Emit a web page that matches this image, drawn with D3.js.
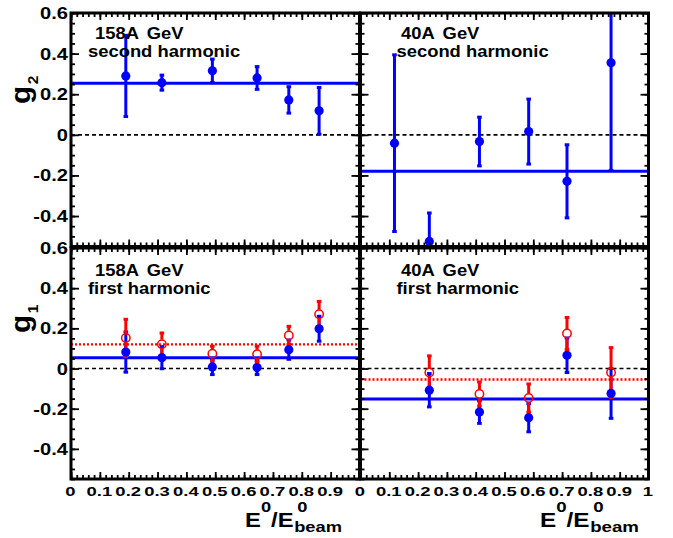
<!DOCTYPE html>
<html><head><meta charset="utf-8">
<script src="https://cdn.jsdelivr.net/npm/d3@7"></script>
<style>
body{margin:0;background:#fff}
svg{display:block}
text{font-family:"Liberation Sans",Arial,Helvetica,sans-serif;font-weight:bold;fill:#000}
</style>
</head><body>
<svg id="c" width="673" height="538"></svg>
<script>
// ---------------- data ----------------
const xTickValues = [0, 0.1, 0.2, 0.3, 0.4, 0.5, 0.6, 0.7, 0.8, 0.9, 1];
const xTickLabels = ["0", "0.1", "0.2", "0.3", "0.4", "0.5", "0.6", "0.7", "0.8", "0.9", "1"];
const yTickValues = [0.6, 0.4, 0.2, 0, -0.2, -0.4];
const yTickLabels = ["0.6", "0.4", "0.2", "0", "-0.2", "-0.4"];

// 158A GeV, second harmonic (g2)
const g2_158_x   = [0.19, 0.315, 0.49, 0.645, 0.755, 0.86];
const g2_158_y   = [0.29, 0.257, 0.315, 0.28, 0.172, 0.118];
const g2_158_err = [0.2, 0.037, 0.058, 0.056, 0.065, 0.115];
const g2_158_fit = 0.254;

// 40A GeV, second harmonic (g2)
const g2_40_x   = [0.118, 0.239, 0.413, 0.584, 0.717, 0.87];
const g2_40_y   = [-0.041, -0.525, -0.033, 0.016, -0.229, 0.355];
const g2_40_err = [0.435, 0.14, 0.12, 0.16, 0.18, 0.53];
const g2_40_fit = -0.18;

// 158A GeV, first harmonic (g1)
const g1_158_x        = [0.19, 0.315, 0.49, 0.645, 0.755, 0.86];
const g1_158_blue_y   = [0.082, 0.054, 0.008, 0.005, 0.094, 0.198];
const g1_158_blue_err = [0.1, 0.055, 0.038, 0.035, 0.048, 0.062];
const g1_158_red_y    = [0.152, 0.121, 0.074, 0.071, 0.165, 0.27];
const g1_158_red_err  = [0.093, 0.056, 0.037, 0.04, 0.045, 0.064];
const g1_158_blue_fit = 0.054;
const g1_158_red_fit  = 0.12;

// 40A GeV, first harmonic (g1)
const g1_40_x        = [0.239, 0.413, 0.584, 0.717, 0.87];
const g1_40_blue_y   = [-0.108, -0.217, -0.245, 0.066, -0.124];
const g1_40_blue_err = [0.083, 0.056, 0.07, 0.086, 0.124];
const g1_40_red_y    = [-0.02, -0.127, -0.147, 0.174, -0.02];
const g1_40_red_err  = [0.083, 0.06, 0.07, 0.08, 0.124];
const g1_40_blue_fit = -0.152;
const g1_40_red_fit  = -0.055;

// ---------------- drawing ----------------
const svg = d3.select("#c");
const BLUE = "#0000ff", RED = "#ff0000";
const zip = (xs, ys, es) => xs.map((x, i) => ({x, y: ys[i], e: es[i]}));

const xL = d3.scaleLinear().domain([0, 1]).range([71, 359.5]);
const xR = d3.scaleLinear().domain([0, 1]).range([360.5, 648.5]);
const yT = d3.scaleLinear().domain([-0.55, 0.6]).range([246.5, 13]);
const yB = d3.scaleLinear().domain([-0.55, 0.6]).range([479, 248]);

const panels = [
  {id: "tl", x: xL, y: yT, yLabels: true, xLabels: false, l1: "158A GeV", l2: "second harmonic",
   t1: [95, 38.5], t2: [88, 56.5],
   fits: [{v: g2_158_fit, c: BLUE}],
   series: [{d: zip(g2_158_x, g2_158_y, g2_158_err), c: BLUE, open: false}]},
  {id: "tr", x: xR, y: yT, yLabels: false, xLabels: false, l1: "40A GeV", l2: "second harmonic",
   t1: [401, 38.5], t2: [396.5, 56.5],
   fits: [{v: g2_40_fit, c: BLUE}],
   series: [{d: zip(g2_40_x, g2_40_y, g2_40_err), c: BLUE, open: false}]},
  {id: "bl", x: xL, y: yB, yLabels: true, xLabels: true, skipLast: true, l1: "158A GeV", l2: "first harmonic",
   t1: [95, 275.5], t2: [88, 293.5],
   fits: [{v: g1_158_blue_fit, c: BLUE}, {v: g1_158_red_fit, c: RED, dotted: true}],
   series: [{d: zip(g1_158_x, g1_158_blue_y, g1_158_blue_err), c: BLUE, open: false},
            {d: zip(g1_158_x, g1_158_red_y, g1_158_red_err), c: RED, open: true}]},
  {id: "br", x: xR, y: yB, yLabels: false, xLabels: true, l1: "40A GeV", l2: "first harmonic",
   t1: [401, 275.5], t2: [396.5, 293.5],
   fits: [{v: g1_40_blue_fit, c: BLUE}, {v: g1_40_red_fit, c: RED, dotted: true}],
   series: [{d: zip(g1_40_x, g1_40_blue_y, g1_40_blue_err), c: BLUE, open: false},
            {d: zip(g1_40_x, g1_40_red_y, g1_40_red_err), c: RED, open: true}]}
];

const defs = svg.append("defs");
const R = 4.6;

panels.forEach(p => {
  const [x0, x1] = p.x.range();
  const [yb, yt] = p.y.range();
  defs.append("clipPath").attr("id", "clip-" + p.id)
    .append("rect").attr("x", x0).attr("y", yt).attr("width", x1 - x0).attr("height", yb - yt);
  const g = svg.append("g");
  const clipped = g.append("g").attr("clip-path", `url(#clip-${p.id})`);

  // zero line
  clipped.append("line").attr("x1", x0).attr("x2", x1).attr("y1", p.y(0)).attr("y2", p.y(0))
    .attr("stroke", "#000").attr("stroke-width", 1.6).attr("stroke-dasharray", "4,3");

  // fits
  p.fits.forEach(f => {
    clipped.append("line").attr("x1", x0).attr("x2", x1).attr("y1", p.y(f.v)).attr("y2", p.y(f.v))
      .attr("stroke", f.c).attr("stroke-width", f.dotted ? 2.4 : 3)
      .attr("stroke-dasharray", f.dotted ? "2,2" : null);
  });

  // data series: error bars
  p.series.forEach(s => {
    s.d.forEach(pt => {
      const cx = p.x(pt.x), cy = p.y(pt.y);
      const yHi = p.y(pt.y + pt.e), yLo = p.y(pt.y - pt.e);
      const gap = s.open ? R : 0;
      if (cy - gap > yHi) clipped.append("line").attr("x1", cx).attr("x2", cx).attr("y1", yHi).attr("y2", cy - gap)
        .attr("stroke", s.c).attr("stroke-width", 3);
      if (yLo > cy + gap) clipped.append("line").attr("x1", cx).attr("x2", cx).attr("y1", cy + gap).attr("y2", yLo)
        .attr("stroke", s.c).attr("stroke-width", 3);
      [yHi, yLo].forEach(yy => {
        clipped.append("rect").attr("x", cx - 2.3).attr("y", yy - 1.5).attr("width", 4.6).attr("height", 3)
          .attr("fill", s.c);
      });
    });
  });
  // markers
  p.series.forEach(s => {
    g.selectAll(null).data(s.d).join("circle")
      .attr("cx", d => p.x(d.x)).attr("cy", d => p.y(d.y)).attr("r", s.open ? R - 0.4 : R)
      .attr("fill", s.open ? "none" : s.c)
      .attr("stroke", s.c).attr("stroke-width", s.open ? 1.5 : 0);
  });

  // ticks with d3 axes (pointing inward)
  const xMinor = d3.range(0, 1.0001, 0.02);
  const yMinor = d3.range(-0.55, 0.6001, 0.05).map(v => +v.toFixed(2));
  const ax = (axisFn, scale, vals, size, tr) => {
    const a = g.append("g").attr("transform", tr)
      .call(axisFn(scale).tickValues(vals).tickSize(size).tickFormat(""));
    a.select(".domain").remove();
    a.selectAll(".tick line").attr("stroke", "#000").attr("stroke-width", 1.8);
  };
  ax(d3.axisBottom, p.x, xMinor, -4, `translate(0,${yb})`);
  ax(d3.axisBottom, p.x, xTickValues, -7, `translate(0,${yb})`);
  ax(d3.axisTop, p.x, xMinor, -4, `translate(0,${yt})`);
  ax(d3.axisTop, p.x, xTickValues, -7, `translate(0,${yt})`);
  ax(d3.axisLeft, p.y, yMinor, -4, `translate(${x0},0)`);
  ax(d3.axisLeft, p.y, yTickValues, -8, `translate(${x0},0)`);
  ax(d3.axisRight, p.y, yMinor, -4, `translate(${x1},0)`);
  ax(d3.axisRight, p.y, yTickValues, -8, `translate(${x1},0)`);

  // frame
  g.append("rect").attr("x", x0).attr("y", yt).attr("width", x1 - x0).attr("height", yb - yt)
    .attr("fill", "none").attr("stroke", "#000").attr("stroke-width", 3);

  // panel labels
  g.append("text").attr("font-size", 16).attr("word-spacing", 3)
    .attr("transform", `translate(${p.t1[0]},${p.t1[1]}) scale(1.15,1.08)`).text(p.l1);
  g.append("text").attr("font-size", 16)
    .attr("transform", `translate(${p.t2[0]},${p.t2[1]}) scale(1.15,1.08)`).text(p.l2);

  // tick labels
  if (p.yLabels) {
    yTickValues.forEach((v, i) => {
      svg.append("text").attr("text-anchor", "end").attr("font-size", 16.5)
        .attr("transform", `translate(68,${p.y(v) + 6}) scale(1.22,1)`).text(yTickLabels[i]);
    });
  }
  if (p.xLabels) {
    xTickValues.forEach((v, i) => {
      if (p.skipLast && i === xTickValues.length - 1) return;
      svg.append("text").attr("text-anchor", "middle").attr("font-size", 13)
        .attr("transform", `translate(${p.x(v) - 0.5},496) scale(1.42,1)`).text(xTickLabels[i]);
    });
  }
});

// x axis titles  E^0 / E^0_beam
function xTitle(xEnd, base, width) {
  const g = svg.append("g");
  const big = 19.5, small = 15;
  const e1 = g.append("text").attr("x", 0).attr("y", 0).attr("font-size", big).text("E");
  const w1 = e1.node().getComputedTextLength();
  const s1 = g.append("text").attr("x", w1).attr("y", -15).attr("font-size", small).text("0");
  const w2 = w1 + s1.node().getComputedTextLength();
  const e2 = g.append("text").attr("x", w2).attr("y", 0).attr("font-size", big).text("/E");
  const w3 = w2 + e2.node().getComputedTextLength();
  g.append("text").attr("x", w3 + 3).attr("y", -15).attr("font-size", small).text("0");
  g.append("text").attr("x", w3 + 0.5).attr("y", 5).attr("font-size", small).text("beam");
  const bb = g.node().getBBox();
  const sx = width / bb.width;
  g.attr("transform", `translate(${xEnd - (bb.x + bb.width) * sx},${base}) scale(${sx},1)`);
}
xTitle(342, 526.5, 97);
xTitle(639, 526.5, 99);

// y axis titles
function yTitle(bx, by, sub) {
  const t = svg.append("text").attr("font-size", 27)
    .attr("transform", `translate(${bx},${by}) rotate(-90) scale(1.1,1)`);
  t.append("tspan").text("g");
  t.append("tspan").attr("font-size", 14).attr("dy", 8).attr("dx", 1.5).text(sub);
}
yTitle(29.5, 104, "2");
yTitle(29.5, 333, "1");
</script>
</body></html>
